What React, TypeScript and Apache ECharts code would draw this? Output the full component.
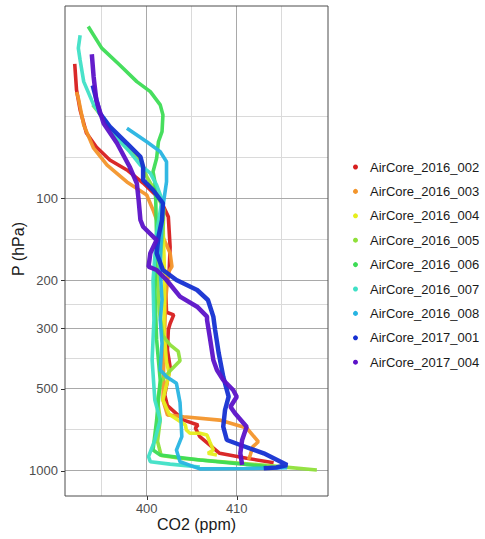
import React, { useEffect, useRef } from "react";
import * as echarts from "echarts";

const seriesNames = [
  "AirCore_2016_002",
  "AirCore_2016_003",
  "AirCore_2016_004",
  "AirCore_2016_005",
  "AirCore_2016_006",
  "AirCore_2016_007",
  "AirCore_2016_008",
  "AirCore_2017_001",
  "AirCore_2017_004",
];
const seriesColors = [
  "#d71e1e",
  "#f3952b",
  "#e6ee1c",
  "#8fe03a",
  "#3ddc55",
  "#3fe0c6",
  "#27b4e2",
  "#1530d2",
  "#5c12c8",
];

// [CO2 (ppm), P (hPa)]
const airCore2016_002 = [
  [392.0, 32.1], [392.2, 40.0], [392.6, 47.4], [393.3, 57.6], [394.4, 64.8],
  [395.9, 72.3], [397.8, 78.7], [399.6, 87.9], [401.5, 101], [402.4, 117],
  [402.6, 151], [402.5, 183], [402.1, 217], [402.2, 262], [403.0, 268],
  [402.6, 288], [402.4, 304], [402.3, 361], [402.6, 416], [402.0, 527],
  [402.3, 577], [404.1, 652], [405.7, 680], [405.4, 697], [405.9, 750],
  [408.1, 863], [411.1, 900], [414.1, 935],
];
const airCore2016_003 = [
  [392.2, 40.7], [392.4, 42.9], [393.0, 53.8], [394.1, 65.5], [395.6, 75.5],
  [397.8, 87.1], [400.0, 97.2], [400.7, 110.4], [401.8, 138.8], [402.6, 159],
  [402.8, 178], [402.4, 187], [402.1, 236], [401.9, 392], [401.8, 550],
  [402.3, 624], [404.1, 634], [408.1, 652], [411.1, 697], [412.4, 783],
  [411.8, 816], [411.5, 876], [411.3, 913],
];
const airCore2016_004 = [
  [401.8, 120], [402.0, 200], [401.9, 300], [402.2, 400], [402.5, 440],
  [401.8, 550], [402.5, 620], [404.3, 680], [404.4, 709], [404.8, 729],
  [405.9, 729], [406.7, 740], [407.0, 783], [407.4, 840], [406.8, 863],
  [407.8, 876],
];
const airCore2016_005 = [
  [394.0, 45.4], [395.2, 51], [396.7, 60], [398.1, 67], [399.3, 72],
  [400.0, 83.3], [401.0, 95], [401.9, 110], [401.8, 135], [401.4, 170],
  [401.2, 200], [401.4, 260], [401.8, 320], [402.6, 345], [403.5, 365],
  [403.7, 395], [402.6, 430], [401.6, 470], [401.2, 550], [401.5, 650],
  [401.2, 780], [401.6, 880], [403.7, 900], [414.8, 966], [418.9, 994],
];
const airCore2016_006 = [
  [393.5, 23.4], [395.0, 28.1], [397.0, 32.4], [398.9, 37.3], [400.4, 40.6],
  [401.5, 45.4], [401.8, 49.4], [401.7, 56.9], [401.3, 62.0], [401.1, 71.3],
  [400.7, 79.9], [400.9, 86.9], [401.0, 101], [401.1, 142], [400.9, 217],
  [401.1, 331], [401.5, 465], [401.1, 652], [400.7, 840], [401.5, 876],
  [405.9, 913], [413.3, 966],
];
const airCore2016_007 = [
  [392.6, 25.2], [392.4, 28.1], [392.6, 31.1], [393.0, 37.3], [394.1, 45.4],
  [395.2, 50.8], [396.7, 60.2], [398.1, 67.4], [399.3, 75.5], [400.4, 80.9],
  [401.1, 89.4], [401.7, 101], [401.1, 134.5], [400.7, 200], [400.8, 280],
  [400.6, 392], [400.9, 550], [401.5, 652], [400.9, 772], [400.2, 888],
  [400.4, 927], [402.6, 946], [405.9, 970],
];
const airCore2016_008 = [
  [397.8, 55.3], [400.0, 62.0], [401.5, 67.4], [402.2, 73.4], [402.2, 86.9],
  [401.8, 107.4], [401.6, 142], [401.5, 183], [401.7, 236], [401.5, 280],
  [401.7, 341], [401.5, 427], [402.2, 452], [403.3, 478], [403.7, 562],
  [403.9, 750], [403.3, 840], [403.7, 927], [405.9, 985], [411.0, 982],
  [415.6, 975],
];
const airCore2017_001 = [
  [394.0, 38.5], [394.8, 48.8], [395.9, 54.6], [397.8, 62.8], [399.3, 70.4],
  [399.6, 76.6], [399.6, 85.7], [400.7, 93.2], [401.8, 104.3], [401.7, 120.1],
  [401.3, 138.4], [401.1, 159.2], [401.8, 183.3], [403.3, 199.5], [405.6, 217.1],
  [406.8, 236.2], [407.4, 272.0], [407.6, 304.4], [408.0, 370.7], [408.5, 451.8],
  [409.1, 535.0], [408.7, 598.6], [408.5, 689.5], [408.9, 771.6], [410.4, 804.8],
  [413.0, 863.2], [415.6, 952.8], [414.4, 973], [413.0, 979.7],
];
const airCore2017_004 = [
  [393.9, 29.6], [394.1, 35.8], [394.4, 43.6], [395.2, 53.0], [396.7, 62.8],
  [398.1, 76.6], [398.9, 88.1], [399.1, 101.4], [399.3, 120.1], [399.6, 127.2],
  [401.1, 142.3], [400.4, 159.2], [400.2, 178.3], [401.1, 183.3], [402.2, 199.5],
  [403.7, 229.7], [405.6, 250.0], [406.7, 272.0], [406.7, 279.8], [407.0, 322.1],
  [407.4, 392.4], [407.8, 427.0], [408.5, 464.6], [409.6, 505.5], [410.0, 535.0],
  [409.3, 582.1], [409.8, 615.7], [411.1, 689.5], [410.6, 771.6], [410.4, 863.2],
  [410.6, 952.8],
];
const profiles = [
  airCore2016_002,
  airCore2016_003,
  airCore2016_004,
  airCore2016_005,
  airCore2016_006,
  airCore2016_007,
  airCore2016_008,
  airCore2017_001,
  airCore2017_004,
];

const xMajorTicks = [400, 410];
const xMinorBreaks = [395, 405, 415];
const yMajorTicks = [100, 200, 300, 500, 1000];
const yMinorBreaks = [50, 70.71, 141.42, 244.95, 387.3, 707.11];
const co2Limits = [390.92, 420.14];
const pLimits = [19.68, 1238.6];

const xTitle = "CO2 (ppm)";
const yTitle = "P (hPa)";

const FONT = "'Liberation Sans', Arial, Helvetica, sans-serif";
const MAJOR = "#a9a9a9";
const MINOR = "#dadada";

export default function App() {
  const ref = useRef<HTMLDivElement>(null);

  useEffect(() => {
    const el = ref.current;
    if (!el) return;
    document.body.style.margin = "0";
    const chart = echarts.init(el, null, { renderer: "svg" });

    const gridLines: any[] = [
      ...xMinorBreaks.map((v) => ({ xAxis: v, lineStyle: { color: MINOR, width: 1, type: "solid" } })),
      ...yMinorBreaks.map((v) => ({ yAxis: v, lineStyle: { color: MINOR, width: 1, type: "solid" } })),
      ...xMajorTicks.map((v) => ({ xAxis: v, lineStyle: { color: MAJOR, width: 1, type: "solid" } })),
      ...yMajorTicks.map((v) => ({ yAxis: v, lineStyle: { color: MAJOR, width: 1, type: "solid" } })),
    ];

    const series: any[] = [
      {
        type: "line",
        name: "__grid",
        data: [],
        silent: true,
        z: 1,
        markLine: {
          silent: true,
          z: 1,
          symbol: ["none", "none"],
          label: { show: false },
          emphasis: { disabled: true },
          animation: false,
          data: gridLines,
        },
      },
      ...profiles.map((d, i) => ({
        type: "line",
        name: seriesNames[i],
        data: d,
        showSymbol: false,
        symbol: "circle",
        silent: true,
        z: 2,
        color: seriesColors[i],
        itemStyle: { color: seriesColors[i] },
        lineStyle: { color: seriesColors[i], width: i >= 7 ? 4.5 : 3.6, opacity: 0.95 },
        emphasis: { disabled: true },
      })),
    ];

    chart.setOption({
      animation: false,
      backgroundColor: "#ffffff",
      textStyle: { fontFamily: FONT },
      grid: {
        left: 65,
        top: 6,
        width: 263,
        height: 490,
        show: true,
        borderColor: "#4d4d4d",
        borderWidth: 1,
        backgroundColor: "transparent",
        z: 3,
      },
      xAxis: {
        type: "value",
        min: co2Limits[0],
        max: co2Limits[1],
        axisLine: { show: false },
        axisTick: { show: false },
        axisLabel: { show: false },
        splitLine: { show: false },
      },
      yAxis: {
        type: "log",
        logBase: 10,
        inverse: true,
        min: pLimits[0],
        max: pLimits[1],
        axisLine: { show: false },
        axisTick: { show: false },
        axisLabel: { show: false },
        splitLine: { show: false },
        minorSplitLine: { show: false },
      },
      legend: {
        data: seriesNames.map((n) => ({ name: n, icon: "circle" })),
        orient: "vertical",
        left: 348,
        top: 155.5,
        itemWidth: 19,
        itemHeight: 5,
        itemGap: 11.4,
        selectedMode: false,
        textStyle: { fontSize: 13, color: "#1a1a1a", fontFamily: FONT, lineHeight: 13 },
      },
      series,
    });

    const elements: any[] = [];
    const toPx = (x: number, y: number) =>
      chart.convertToPixel({ gridIndex: 0 } as any, [x, y]) as number[];

    yMajorTicks.forEach((v) => {
      const p = toPx(co2Limits[0], v);
      const y = Math.round(p[1]) + 0.5;
      elements.push({
        type: "line",
        silent: true,
        shape: { x1: p[0] - 4, y1: y, x2: p[0], y2: y },
        style: { stroke: "#333333", lineWidth: 1 },
      });
      elements.push({
        type: "text",
        silent: true,
        x: p[0] - 7,
        y: p[1],
        style: {
          text: String(v),
          fill: "#4d4d4d",
          fontSize: 13,
          fontFamily: FONT,
          align: "right",
          verticalAlign: "middle",
        },
      });
    });
    xMajorTicks.forEach((v) => {
      const p = toPx(v, pLimits[1]);
      const x = Math.round(p[0]) + 0.5;
      elements.push({
        type: "line",
        silent: true,
        shape: { x1: x, y1: p[1], x2: x, y2: p[1] + 4 },
        style: { stroke: "#333333", lineWidth: 1 },
      });
      elements.push({
        type: "text",
        silent: true,
        x: p[0],
        y: p[1] + 12.7,
        style: {
          text: String(v),
          fill: "#4d4d4d",
          fontSize: 13,
          fontFamily: FONT,
          align: "center",
          verticalAlign: "middle",
        },
      });
    });

    const c0 = toPx(co2Limits[0], pLimits[0]);
    const c1 = toPx(co2Limits[1], pLimits[1]);
    elements.push({
      type: "text",
      silent: true,
      x: (c0[0] + c1[0]) / 2,
      y: c1[1] + 28.5,
      style: {
        text: xTitle,
        fill: "#1a1a1a",
        fontSize: 16,
        fontFamily: FONT,
        align: "center",
        verticalAlign: "middle",
      },
    });
    elements.push({
      type: "text",
      silent: true,
      x: 18,
      y: (c0[1] + c1[1]) / 2 - 2,
      rotation: Math.PI / 2,
      style: {
        text: yTitle,
        fill: "#1a1a1a",
        fontSize: 16,
        fontFamily: FONT,
        align: "center",
        verticalAlign: "middle",
      },
    });

    chart.setOption({ graphic: { elements } });

    return () => {
      chart.dispose();
    };
  }, []);

  return <div ref={ref} style={{ width: 485, height: 539 }} />;
}
